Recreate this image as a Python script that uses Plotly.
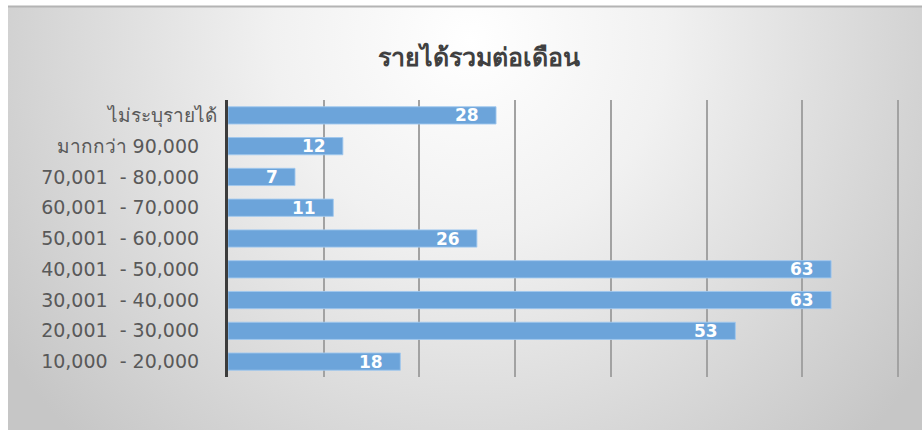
import base64
import plotly.graph_objects as go

# ---- data ----
categories = [
    "10,000  - 20,000",
    "20,001  - 30,000",
    "30,001  - 40,000",
    "40,001  - 50,000",
    "50,001  - 60,000",
    "60,001  - 70,000",
    "70,001  - 80,000",
    "มากกว่า 90,000",
    "ไม่ระบุรายได้",
]
values = [18, 53, 63, 63, 26, 11, 7, 12, 28]
title_text = "รายได้รวมต่อเดือน"

W, H = 922, 430
L, R, T, B = 228, 22, 100, 53
pw, ph = W - L - R, H - T - B

FONT = "DejaVu Sans, Noto Sans, sans-serif"
BAR = "rgb(108,164,218)"

# tick labels: keep the original double spaces / trailing spaces as non-breaking spaces
tick_text = [c.replace("  ", "\u00a0\u00a0") + ("" if c.startswith("ไม่") else "\u00a0\u00a0\u00a0") for c in categories]

bg_svg = f'''<svg xmlns="http://www.w3.org/2000/svg" width="{W}" height="{H}" viewBox="0 0 {W} {H}">
<defs><radialGradient id="g" gradientUnits="userSpaceOnUse" cx="470" cy="40" r="560">
<stop offset="0" stop-color="#ffffff"/><stop offset="0.35" stop-color="#f1f1f1"/><stop offset="1" stop-color="#c6c6c6"/>
</radialGradient></defs>
<rect x="0" y="0" width="{W}" height="{H}" fill="#ffffff"/>
<rect x="8" y="6" width="{W-8}" height="{H-6}" fill="url(#g)"/>
<line x1="8" y1="6.5" x2="{W}" y2="6.5" stroke="#b4b4b4" stroke-width="2"/>
</svg>'''
bg_uri = "data:image/svg+xml;base64," + base64.b64encode(bg_svg.encode()).decode()

fig = go.Figure()
fig.add_trace(go.Bar(
    y=categories, x=values, orientation="h",
    marker=dict(color=BAR, line=dict(color="rgba(160,200,238,0.9)", width=1)),
    width=0.56, hoverinfo="x+y",
))

annotations = [
    dict(x=v, y=c, xref="x", yref="y", text=f"<b>{v}</b>", showarrow=False,
         xanchor="right", yanchor="middle", xshift=-15,
         font=dict(family=FONT, size=17, color="white"))
    for c, v in zip(categories, values)
]
annotations.append(dict(
    x=(479 - L) / pw, y=(H - B - 57) / ph, xref="paper", yref="paper",
    text=f"<b>{title_text}</b>", showarrow=False, xanchor="center", yanchor="middle",
    font=dict(family=FONT, size=25, color="#404040")))

fig.update_layout(
    width=W, height=H,
    margin=dict(l=L, r=R, t=T, b=B, pad=0),
    paper_bgcolor="white", plot_bgcolor="rgba(0,0,0,0)",
    showlegend=False, bargap=0.44,
    annotations=annotations,
    images=[dict(source=bg_uri, xref="paper", yref="paper",
                 x=-L / pw, y=(H - B) / ph, sizex=W / pw, sizey=H / ph,
                 xanchor="left", yanchor="top", sizing="stretch", layer="below")],
    xaxis=dict(range=[0, 70.2], dtick=10, showgrid=True, gridcolor="#a2a2a2", gridwidth=1.5,
               showticklabels=False, zeroline=False, showline=False, fixedrange=True),
    yaxis=dict(categoryorder="array", categoryarray=categories,
               tickmode="array", tickvals=categories, ticktext=tick_text,
               showline=True, linecolor="#3c3c3c", linewidth=3, showgrid=False,
               ticks="", ticklabelstandoff=4,
               tickfont=dict(family=FONT, size=19, color="#595959"), fixedrange=True),
)

fig.write_html("out.html")
